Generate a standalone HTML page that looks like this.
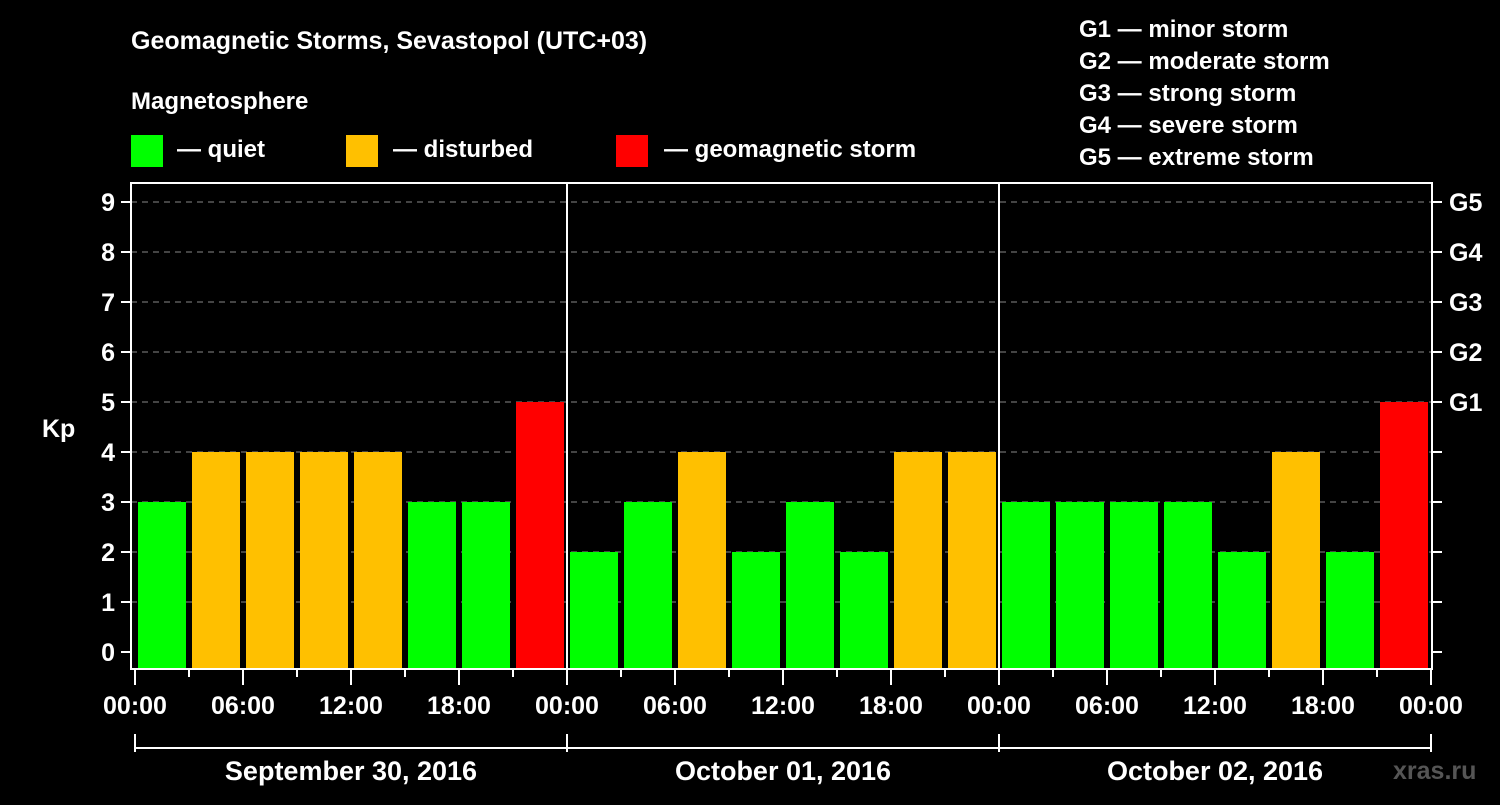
<!DOCTYPE html>
<html><head><meta charset="utf-8"><style>
html,body{margin:0;padding:0;background:#000;}
svg text{font-family:"Liberation Sans",Arial,sans-serif;font-weight:bold;fill:#fff;}
</style></head><body>
<svg id="chart" width="1500" height="800" xmlns="http://www.w3.org/2000/svg">
<rect width="1500" height="800" fill="#000"/>
<text x="131" y="49" font-size="25">Geomagnetic Storms, Sevastopol (UTC+03)</text>
<text x="131" y="109" font-size="24">Magnetosphere</text>
<g><rect x="131" y="135" width="32" height="32" fill="#00ff00"/><text x="177" y="157" font-size="24">— quiet</text></g>
<g><rect x="346" y="135" width="32" height="32" fill="#ffc000"/><text x="393" y="157" font-size="24">— disturbed</text></g>
<g><rect x="616" y="135" width="32" height="32" fill="#ff0000"/><text x="664" y="157" font-size="24">— geomagnetic storm</text></g>
<g font-size="24">
<text x="1079" y="37">G1 — minor storm</text>
<text x="1079" y="69">G2 — moderate storm</text>
<text x="1079" y="101">G3 — strong storm</text>
<text x="1079" y="133">G4 — severe storm</text>
<text x="1079" y="165">G5 — extreme storm</text>
</g>
<text x="42" y="437" font-size="25">Kp</text>
<text x="1393" y="779" font-size="25" style="fill:#555">xras.ru</text>
<g id="grid"></g><g id="bars"></g><g id="axes"></g>
</svg>
<script>
const kpValues=[3,4,4,4,4,3,3,5, 2,3,4,2,3,2,4,4, 3,3,3,3,2,4,2,5];
const yTicks=[0,1,2,3,4,5,6,7,8,9];
const gLabels=["G1","G2","G3","G4","G5"];
const timeLabels=["00:00","06:00","12:00","18:00"];
const dayLabels=["September 30, 2016","October 01, 2016","October 02, 2016"];
const NS="http://www.w3.org/2000/svg";
const X0=135, HOUR=18, Y0=652, UNIT=50, TOP=183, BOT=669, LEFT=131, RIGHT=1432;
const x=h=>X0+h*HOUR, y=v=>Y0-v*UNIT;
function mk(tag,attrs,parent){const e=document.createElementNS(NS,tag);for(const k in attrs)e.setAttribute(k,attrs[k]);parent.appendChild(e);return e;}
const grid=document.getElementById('grid'),bars=document.getElementById('bars'),axes=document.getElementById('axes');
yTicks.forEach(v=>{
  if(v>0){const l=mk('line',{x1:LEFT,x2:RIGHT,y1:y(v),y2:y(v),stroke:'#888','stroke-dasharray':'6,5','stroke-width':1},grid);
  
  }
  const t=mk('line',{x1:LEFT-10,x2:LEFT,y1:y(v),y2:y(v),stroke:'#fff','stroke-width':2},axes);
  
  
  const rt=mk('line',{x1:RIGHT,x2:RIGHT+10,y1:y(v),y2:y(v),stroke:'#fff','stroke-width':2},axes);
  
  
  const lb=mk('text',{x:LEFT-16,y:y(v)+9,'font-size':25,'text-anchor':'end'},axes);lb.textContent=v;
  
  
});
gLabels.forEach((g,i)=>{const t=mk('text',{x:RIGHT+17,y:y(5+i)+9,'font-size':25},axes);t.textContent=g;
  
  });
kpValues.forEach((v,i)=>{
  const c=v>=5?'#ff0000':v>=4?'#ffc000':'#00ff00';
  const r=mk('rect',{x:x(i*3)+3,y:y(v),width:48,height:BOT-1-y(v),fill:c},bars);
  
  
});
mk('rect',{x:LEFT,y:TOP,width:RIGHT-LEFT,height:BOT-TOP,fill:'none',stroke:'#fff','stroke-width':2},axes);
[1,2].forEach(d=>{const l=mk('line',{x1:x(d*24),x2:x(d*24),y1:TOP,y2:BOT,stroke:'#fff','stroke-width':2},axes);
  
  });
for(let h=0;h<=72;h+=3){
  const long=h%6===0;
  const t=mk('line',{x1:x(h),x2:x(h),y1:BOT,y2:BOT+(long?16:8),stroke:'#fff','stroke-width':2},axes);
  
  
  if(long){const lb=mk('text',{x:x(h),y:714,'font-size':25,'text-anchor':'middle'},axes);lb.textContent=timeLabels[(h/6)%4];
  
  }
}
mk('line',{x1:x(0),x2:x(72),y1:748,y2:748,stroke:'#fff','stroke-width':2},axes);
for(let d=0;d<=3;d++){const l=mk('line',{x1:x(d*24),x2:x(d*24),y1:734,y2:752,stroke:'#fff','stroke-width':2},axes);
  
  }
dayLabels.forEach((d,i)=>{const t=mk('text',{x:x(i*24+12),y:780,'font-size':27,'text-anchor':'middle'},axes);t.textContent=d;
  
  });
</script>
</body></html>
